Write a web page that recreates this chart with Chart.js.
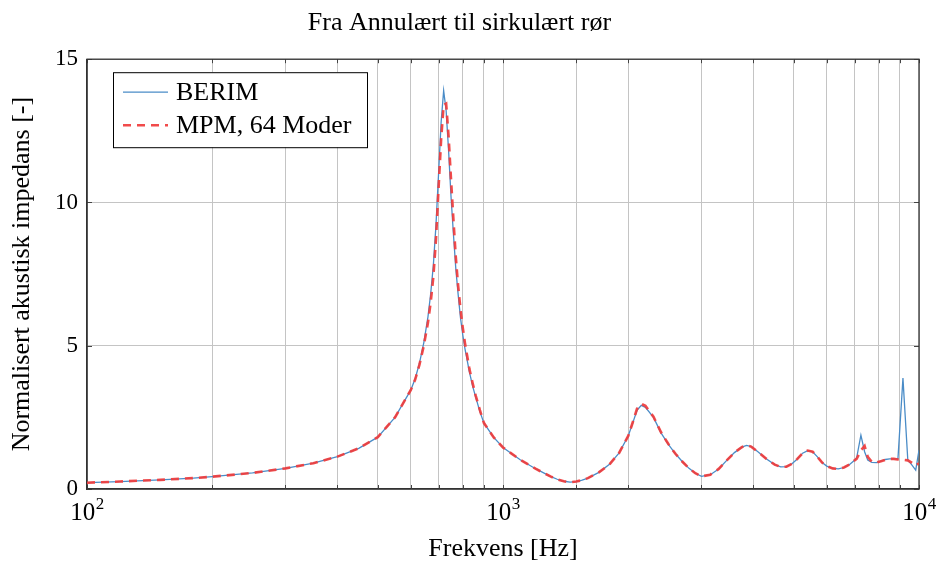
<!DOCTYPE html>
<html>
<head>
<meta charset="utf-8">
<script src="https://cdn.jsdelivr.net/npm/chart.js@4/dist/chart.umd.min.js"></script>
<style>
  html, body { margin: 0; padding: 0; background: #fff; }
  canvas { display: block; }
</style>
</head>
<body>
<canvas id="c" width="943" height="563"></canvas>
<script>
// ---- Data ----
const freqs = [100, 120, 150, 180, 200, 250, 300, 350, 400, 450, 500, 550, 600, 615, 630, 645, 660, 670, 680, 690, 700, 710, 720, 730, 740, 750, 760, 770, 780, 790, 800, 810, 820, 830, 845, 860, 880, 900, 950, 1000,
  1100, 1200, 1300, 1350, 1400, 1450, 1500, 1550, 1600, 1700, 1800, 1900, 2000, 2050, 2100, 2150, 2200, 2300, 2400, 2500, 2600, 2700, 2800, 2900, 3000,
  3150, 3300, 3450, 3600, 3750, 3850, 3950, 4100, 4300, 4500, 4650, 4800, 4950, 5100, 5250, 5400, 5550, 5700, 5850, 6000, 6200, 6400, 6600, 6800,
  7000, 7080, 7250, 7400, 7530, 7700, 7900, 8100, 8300, 8500, 8700, 8900, 9150, 9400, 9600, 9820, 10000];

const berim = [0.22, 0.26, 0.32, 0.38, 0.43, 0.56, 0.72, 0.90, 1.13, 1.42, 1.81, 2.50, 3.45, 3.85, 4.40, 5.10, 6.00, 6.80, 7.80, 9.20, 11.0, 12.8, 13.9, 13.2, 11.8, 10.2, 8.9, 7.7, 6.8, 6.0, 5.4, 4.9, 4.5, 4.1, 3.6, 3.2, 2.7, 2.3, 1.8, 1.45,
  1.02, 0.70, 0.44, 0.34, 0.27, 0.24, 0.26, 0.31, 0.38, 0.58, 0.85, 1.25, 1.85, 2.30, 2.75, 2.92, 2.85, 2.50, 1.95, 1.55, 1.22, 0.95, 0.72, 0.55, 0.44,
  0.50, 0.70, 1.00, 1.27, 1.46, 1.52, 1.48, 1.30, 1.05, 0.85, 0.77, 0.78, 0.88, 1.05, 1.25, 1.34, 1.30, 1.12, 0.92, 0.80, 0.72, 0.70, 0.75, 0.85,
  1.00, 1.08, 1.88, 1.30, 1.01, 0.93, 0.92, 0.97, 1.03, 1.05, 1.05, 1.05, 3.87, 1.00, 0.85, 0.66, 1.36];

const mpm = [0.22, 0.26, 0.32, 0.38, 0.43, 0.56, 0.72, 0.90, 1.13, 1.42, 1.81, 2.50, 3.45, 3.82, 4.35, 5.00, 5.80, 6.50, 7.40, 8.70, 10.5, 12.2, 13.4, 13.45, 12.3, 10.8, 9.4, 8.1, 7.1, 6.3, 5.65, 5.1, 4.65, 4.2, 3.7, 3.25, 2.75, 2.3, 1.8, 1.45,
  1.02, 0.70, 0.44, 0.34, 0.27, 0.24, 0.26, 0.31, 0.38, 0.58, 0.85, 1.25, 1.85, 2.32, 2.80, 2.97, 2.90, 2.52, 1.97, 1.56, 1.22, 0.95, 0.72, 0.55, 0.44,
  0.50, 0.70, 1.00, 1.27, 1.46, 1.52, 1.48, 1.30, 1.05, 0.85, 0.77, 0.78, 0.88, 1.05, 1.25, 1.34, 1.30, 1.12, 0.92, 0.80, 0.72, 0.70, 0.75, 0.85,
  1.00, 1.05, 1.35, 1.50, 1.12, 0.95, 0.92, 0.97, 1.02, 1.05, 1.05, 1.03, 1.02, 1.00, 0.92, 0.82, 0.90];

const xTickExponents = [2, 3, 4];   // labels 10^2, 10^3, 10^4
const yTickValues = [0, 5, 10, 15];

const SERIF = "'Liberation Serif', 'Times New Roman', serif";

const framePlugin = {
  id: 'frame',
  beforeDatasetsDraw(chart) {
    const { ctx, chartArea: a, scales } = chart;
    ctx.save();
    ctx.strokeStyle = '#444';
    ctx.lineWidth = 1;
    scales.x.ticks.forEach(t => {
      const px = Math.round(scales.x.getPixelForValue(t.value)) + 0.5;
      ctx.beginPath();
      ctx.moveTo(px, a.bottom); ctx.lineTo(px, a.bottom - 4);
      ctx.moveTo(px, a.top); ctx.lineTo(px, a.top + 4);
      ctx.stroke();
    });
    scales.y.ticks.forEach(t => {
      const py = Math.round(scales.y.getPixelForValue(t.value)) + 0.5;
      ctx.beginPath();
      ctx.moveTo(a.left, py); ctx.lineTo(a.left + 5, py);
      ctx.moveTo(a.right, py); ctx.lineTo(a.right - 5, py);
      ctx.stroke();
    });
    ctx.strokeStyle = '#333';
    ctx.lineWidth = 1.3;
    ctx.strokeRect(a.left, a.top, a.right - a.left, a.bottom - a.top);
    ctx.restore();
  },
  afterDraw(chart) {
    // power-of-ten tick labels with a real superscript, positioned by the x scale
    const { ctx, chartArea: a, scales } = chart;
    ctx.save();
    ctx.fillStyle = '#000';
    ctx.textBaseline = 'alphabetic';
    ctx.textAlign = 'left';
    xTickExponents.forEach(e => {
      const px = scales.x.getPixelForValue(Math.pow(10, e));
      const base = '10', sup = String(e);
      ctx.font = '25px ' + SERIF;
      const wb = ctx.measureText(base).width;
      ctx.font = '17px ' + SERIF;
      const ws = ctx.measureText(sup).width;
      const x0 = px - (wb + ws) / 2;
      ctx.font = '25px ' + SERIF;
      ctx.fillText(base, x0, a.bottom + 31);
      ctx.font = '17px ' + SERIF;
      ctx.fillText(sup, x0 + wb + 0.5, a.bottom + 20);
    });
    ctx.restore();
  }
};

const legendPlugin = {
  id: 'innerLegend',
  afterDraw(chart) {
    const { ctx, chartArea: a } = chart;
    const x = a.left + 26, y = a.top + 13, w = 254, h = 75;
    ctx.save();
    ctx.fillStyle = '#fff';
    ctx.fillRect(x, y, w, h);
    ctx.strokeStyle = '#000';
    ctx.lineWidth = 1;
    ctx.strokeRect(x + 0.5, y + 0.5, w, h);
    const rows = [y + 20, y + 53];
    chart.data.datasets.forEach((ds, i) => {
      const ry = rows[i];
      ctx.beginPath();
      ctx.strokeStyle = ds.borderColor;
      ctx.lineWidth = ds.borderWidth;
      ctx.setLineDash(ds.borderDash || []);
      ctx.moveTo(x + 10, ry);
      ctx.lineTo(x + 55, ry);
      ctx.stroke();
      ctx.setLineDash([]);
      ctx.fillStyle = '#000';
      ctx.font = '26px ' + SERIF;
      ctx.textBaseline = 'middle';
      ctx.textAlign = 'left';
      ctx.fillText(ds.label, x + 63, ry + 1);
    });
    ctx.restore();
  }
};

const toPoints = (vals) => freqs.map((f, i) => ({ x: f, y: vals[i] }));

new Chart(document.getElementById('c'), {
  type: 'line',
  data: {
    datasets: [
      { label: 'BERIM', data: toPoints(berim), borderColor: '#4a8cc7', borderWidth: 1.3,
        pointRadius: 0, tension: 0, order: 1 },
      { label: 'MPM, 64 Moder', data: toPoints(mpm), borderColor: 'rgba(240,60,60,0.92)', borderWidth: 2.6,
        borderDash: [8, 6], pointRadius: 0, tension: 0, order: 0 }
    ]
  },
  options: {
    responsive: false,
    animation: false,
    layout: { padding: { left: 0, right: 24, top: 0, bottom: 0 } },
    plugins: {
      legend: { display: false },
      tooltip: { enabled: false },
      title: {
        display: true, text: 'Fra Annulært til sirkulært rør', color: '#000',
        font: { family: SERIF, size: 26, weight: 'normal', lineHeight: 1.2 },
        padding: { top: 8, bottom: 20 }
      }
    },
    scales: {
      x: {
        type: 'logarithmic', min: 100, max: 10000,
        grid: { color: '#c4c4c4', lineWidth: 1, drawTicks: false },
        border: { color: '#333', width: 1.3 },
        ticks: {
          autoSkip: false, maxRotation: 0, minRotation: 0, padding: 8, color: '#000',
          font: { family: SERIF, size: 25 },
          callback: () => ''
        },
        title: {
          display: true, text: 'Frekvens [Hz]', color: '#000',
          font: { family: SERIF, size: 26, lineHeight: 1 }, padding: { top: 0, bottom: 1 }
        },
        afterFit: (s) => { s.height = 74; }
      },
      y: {
        min: 0, max: 15,
        afterBuildTicks: (s) => { s.ticks = yTickValues.map(v => ({ value: v })); },
        grid: { color: '#c4c4c4', lineWidth: 1, drawTicks: false },
        border: { color: '#333', width: 1.3 },
        ticks: { padding: 9, color: '#000', font: { family: SERIF, size: 23 } },
        title: {
          display: true, text: 'Normalisert akustisk impedans [-]', color: '#000',
          font: { family: SERIF, size: 26, lineHeight: 1 }, padding: { top: 9, bottom: 0 }
        },
        afterFit: (s) => { s.width = 87; }
      }
    }
  },
  plugins: [framePlugin, legendPlugin]
});
</script>
</body>
</html>
